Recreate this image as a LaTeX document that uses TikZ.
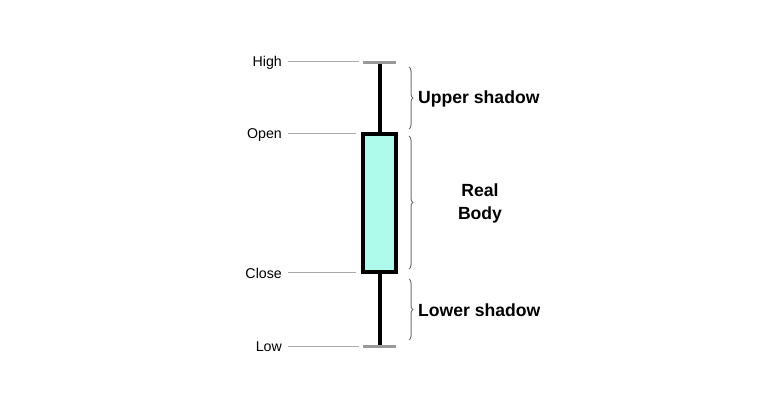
\documentclass[tikz,border=0pt]{standalone}
\usepackage{fontspec}
\setmainfont{Liberation Sans}
\usetikzlibrary{decorations.pathreplacing}
\definecolor{bodyfill}{HTML}{AEFBEC}
\definecolor{capgray}{HTML}{999999}
\definecolor{leadgray}{HTML}{AAAAAA}
\definecolor{bracegray}{HTML}{707070}
\tikzset{
  pricelbl/.style={anchor=east, inner sep=0pt, font=\fontsize{14.2}{17}\selectfont},
  leader/.style={draw=leadgray, line width=1pt},
  capline/.style={draw=capgray, line width=3pt},
  wick/.style={draw=black, line width=3.2pt},
  bodybox/.style={draw=black, line width=3.2pt, fill=bodyfill},
  bracepath/.style={draw=bracegray, line width=1pt, decorate, decoration={brace, amplitude=4pt}},
  partlbl/.style={inner sep=0pt, font=\fontsize{17.6}{23}\bfseries\selectfont}
}
\begin{document}
\begin{tikzpicture}[x=1pt,y=-1pt]
\useasboundingbox (0,0) rectangle (758,409);
% wick and caps
\coordinate (hiL) at (363,63); \coordinate (hiR) at (396,63);
\coordinate (loL) at (363,346); \coordinate (loR) at (396,346);
\coordinate (hiM) at (380,63); \coordinate (loM) at (380,346);
\draw[wick] (hiM) -- (loM);
\draw[capline] (hiL) -- (hiR);
\draw[capline] (loL) -- (loR);
% body
\node[bodybox, minimum width=33pt, minimum height=138pt, inner sep=0pt] (body) at (379.5,203) {};
% price labels
\node[pricelbl] (high) at (282,63) {High};
\node[pricelbl] (open) at (282,135) {Open};
\node[pricelbl] (close) at (282,273) {Close};
\node[pricelbl] (low) at (282,347) {Low};
\coordinate (highE) at (359,62);
\coordinate (openE) at (356,134);
\coordinate (closeE) at (356,272);
\coordinate (lowE) at (359,346);
\draw[leader] ([xshift=6pt]high.east |- highE) -- (highE);
\draw[leader] ([xshift=6pt]open.east |- openE) -- (openE);
\draw[leader] ([xshift=6pt]close.east |- closeE) -- (closeE);
\draw[leader] ([xshift=6pt]low.east |- lowE) -- (lowE);
% braces
\coordinate (b1a) at (409,67); \coordinate (b1b) at (409,129);
\coordinate (b2a) at (409,136); \coordinate (b2b) at (409,269);
\coordinate (b3a) at (409,279); \coordinate (b3b) at (409,340);
\draw[bracepath] (b1a) -- (b1b);
\draw[bracepath] (b2a) -- (b2b);
\draw[bracepath] (b3a) -- (b3b);
% part labels
\node[partlbl, anchor=west] (upper) at (418,98.5) {Upper shadow};
\node[partlbl, align=center] (real) at (480,203.5) {Real\\Body};
\node[partlbl, anchor=west] (lower) at (418,310.5) {Lower shadow};
\end{tikzpicture}
\end{document}
